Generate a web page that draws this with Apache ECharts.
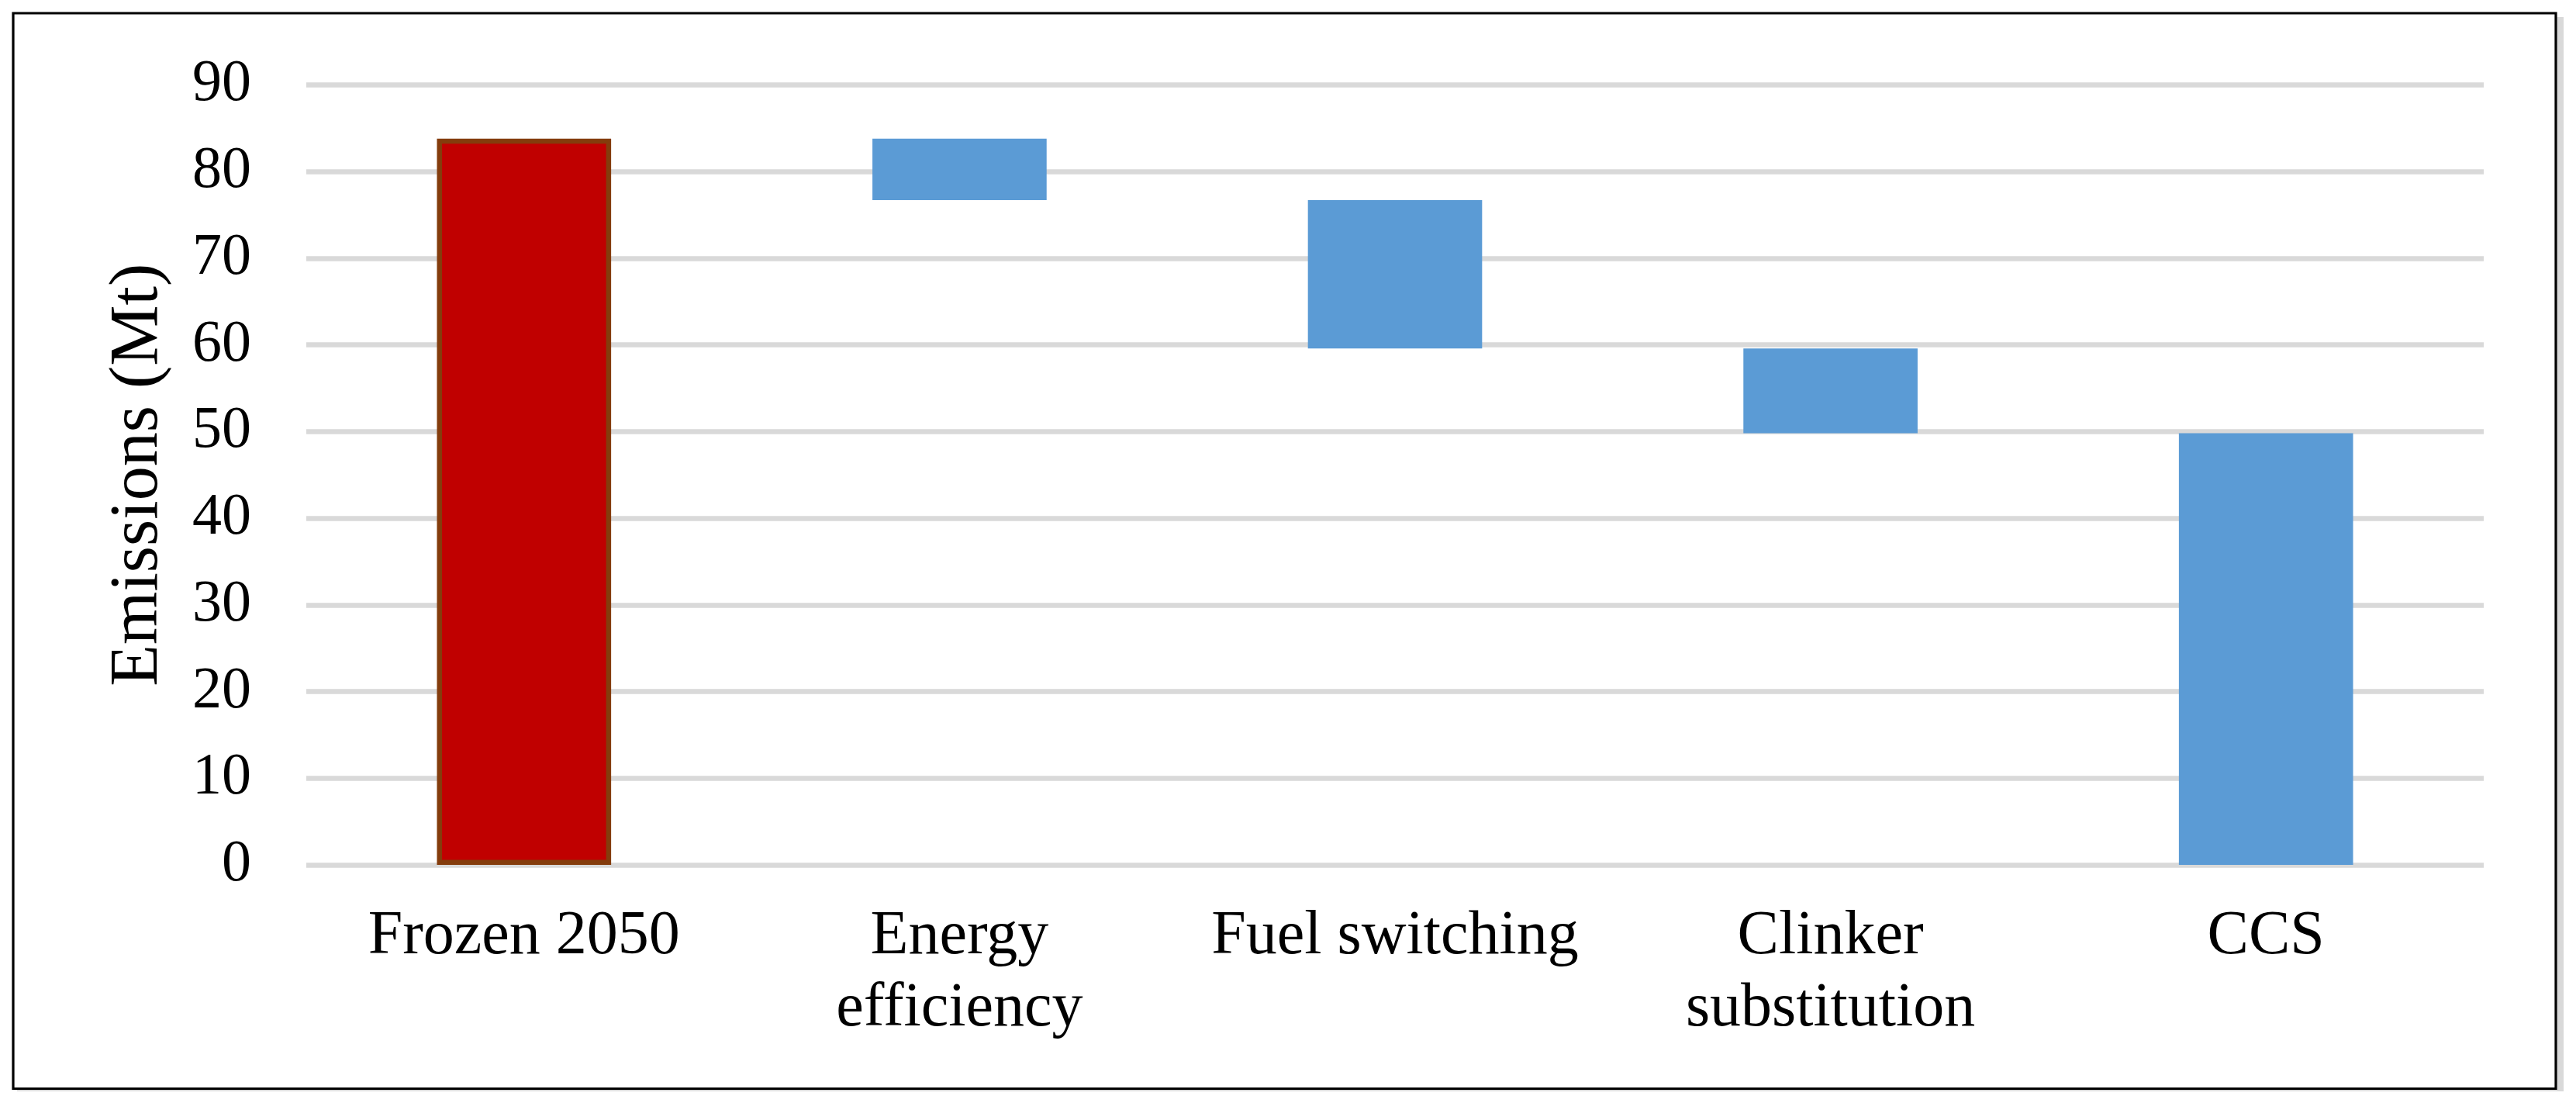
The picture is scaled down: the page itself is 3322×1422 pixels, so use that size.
<!DOCTYPE html>
<html>
<head>
<meta charset="utf-8">
<script src="https://cdn.jsdelivr.net/npm/echarts@6/dist/echarts.min.js"></script>
<style>
html,body{margin:0;padding:0;background:#fff;}
#chart{width:3322px;height:1422px;}
</style>
</head>
<body>
<div id="chart"></div>
<script>
const categories = ['Frozen 2050', 'Energy\nefficiency', 'Fuel switching', 'Clinker\nsubstitution', 'CCS'];
const baseValues = [0, 76.7, 59.6, 49.8, 0];
const stepValues = [83.8, 7.1, 17.1, 9.8, 49.8];
const yTicks = { min: 0, max: 90, interval: 10 };
const yName = 'Emissions (Mt)';

const FONT = "'Palatino Linotype','Book Antiqua',Palatino,'Liberation Serif',serif";
const chart = echarts.init(document.getElementById('chart'), null, { renderer: 'canvas' });

chart.setOption({
  animation: false,
  backgroundColor: '#ffffff',
  grid: { left: 395, right: 119, top: 109.5, bottom: 307, containLabel: false },
  xAxis: {
    type: 'category',
    data: categories,
    axisLine: { show: false },
    axisTick: { show: false },
    axisLabel: { color: '#000', fontFamily: FONT, fontSize: 80, lineHeight: 93, margin: 46, interval: 0 }
  },
  yAxis: {
    type: 'value',
    min: yTicks.min, max: yTicks.max, interval: yTicks.interval,
    name: yName,
    nameLocation: 'middle',
    nameRotate: 90,
    nameGap: 172,
    nameTextStyle: { color: '#000', fontFamily: FONT, fontSize: 88 },
    axisLine: { show: false },
    axisTick: { show: false },
    axisLabel: { color: '#000', fontFamily: FONT, fontSize: 76, margin: 71 },
    splitLine: { show: true, lineStyle: { color: '#D9D9D9', width: 6.7 } }
  },
  series: [
    {
      type: 'bar', stack: 'wf', data: baseValues,
      itemStyle: { color: 'rgba(0,0,0,0)' },
      barCategoryGap: '60%', silent: true
    },
    {
      type: 'bar', stack: 'wf',
      data: stepValues.map((v, i) => i === 0
        ? { value: v, itemStyle: { color: '#C00000', borderColor: '#843C0C', borderWidth: 6.5 } }
        : { value: v, itemStyle: { color: '#5B9BD5' } }),
      barCategoryGap: '60%'
    }
  ],
  graphic: [
    { type: 'rect', shape: { x: 3297, y: 22, width: 9, height: 1385 }, style: { fill: '#D9D9D9' }, z: 99 },
    { type: 'rect', shape: { x: 22, y: 1405, width: 3284, height: 2 }, style: { fill: '#D9D9D9' }, z: 99 },
    { type: 'rect', shape: { x: 17, y: 17, width: 3279, height: 1386.5 },
      style: { fill: 'none', stroke: '#000', lineWidth: 3.2 }, z: 100 }
  ]
});
</script>
</body>
</html>
